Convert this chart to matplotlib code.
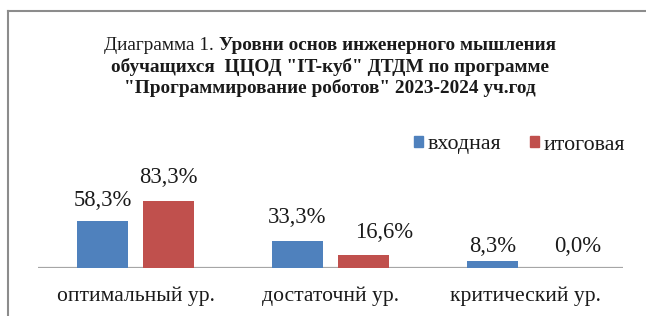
import matplotlib
matplotlib.use("Agg")
import matplotlib.pyplot as plt
from matplotlib.patches import Patch
from matplotlib.lines import Line2D
import matplotlib.transforms as mtransforms
import numpy as np

categories = ["оптимальный ур.", "достаточнй ур.", "критический ур."]
series_names = ["входная", "итоговая"]
vhodnaya = [58.3, 33.3, 8.3]
itogovaya = [83.3, 16.6, 0.0]
labels_vhodnaya = ["58,3%", "33,3%", "8,3%"]
labels_itogovaya = ["83,3%", "16,6%", "0,0%"]
title_line1_normal = "Диаграмма 1. "
title_line1_bold = "Уровни основ инженерного мышления"
title_line2 = 'обучащихся  ЦЦОД "IT-куб" ДТДМ по программе'
title_line3 = '"Программирование роботов" 2023-2024 уч.год'

# label offsets in pixels (dx, dy of label center above bar top)
off_vhod = [(0, 21), (0, 24), (0, 15)]
off_itog = [(0, 23), (21, 22), (19, 21)]

W, H = 646, 316
DPI = 100
plt.rcParams['font.family'] = ['Liberation Serif', 'DejaVu Serif']
fig = plt.figure(figsize=(W / DPI, H / DPI), dpi=DPI)
fig.patch.set_facecolor('white')

BLUE = '#4F81BD'
RED = '#C0504D'
TXT = '#1a1a1a'

# axes placement in pixels
ax_left, ax_right = 38, 623
ax_bottom_px, ax_top_px = 268, 128
scale = 0.805  # px per %
ax = fig.add_axes([ax_left / W, (H - ax_bottom_px) / H,
                   (ax_right - ax_left) / W, (ax_bottom_px - ax_top_px) / H])
ax.set_xlim(-0.5, len(categories) - 0.5)
ax.set_ylim(0, (ax_bottom_px - ax_top_px) / scale)
ax.axis('off')
ax.axhline(0, color='#a6a6a6', lw=1.6, zorder=1)

x = np.arange(len(categories))
bw = 0.26
off = 0.169
ax.bar(x - off, vhodnaya, bw, color=BLUE, zorder=2)
ax.bar(x + off, itogovaya, bw, color=RED, zorder=2)

FS_VAL = 16.3
for xi, v, lab, (dx, dy) in zip(x - off, vhodnaya, labels_vhodnaya, off_vhod):
    ax.annotate(lab, (xi, v), xytext=(dx * 0.72, dy * 0.72), textcoords='offset points',
                ha='center', va='center', fontsize=FS_VAL, color=TXT)
for xi, v, lab, (dx, dy) in zip(x + off, itogovaya, labels_itogovaya, off_itog):
    ax.annotate(lab, (xi, v), xytext=(dx * 0.72, dy * 0.72), textcoords='offset points',
                ha='center', va='center', fontsize=FS_VAL, color=TXT)

cat_tr = ax.get_xaxis_transform() + mtransforms.ScaledTranslation(0, -28 / DPI, fig.dpi_scale_trans)
for xi, c in zip(x, categories):
    ax.text(xi, 0, c, transform=cat_tr, ha='center', va='center',
            fontsize=15.6, color=TXT)

# legend
handles = [Patch(color=BLUE), Patch(color=RED)]
leg = fig.legend(handles, series_names, loc='center right',
                 bbox_to_anchor=(625 / W, (H - 145) / H), ncol=2, frameon=False,
                 fontsize=15.8, handlelength=0.42, handleheight=0.42, handletextpad=0.2,
                 columnspacing=1.3, borderaxespad=0, borderpad=0)
for t in leg.get_texts():
    t.set_color(TXT)

# border (left and top edges of the chart frame; the rest is cropped)
ytop = (H - 10.5) / H
fig.add_artist(Line2D([8 / W, 8 / W], [-0.05, ytop], transform=fig.transFigure,
                      color='#8c8c8c', lw=1.5, solid_capstyle='projecting'))
fig.add_artist(Line2D([8 / W, 1.05], [ytop, ytop], transform=fig.transFigure,
                      color='#8c8c8c', lw=1.5, solid_capstyle='projecting'))

# title
fs_title = 13.9
renderer = fig.canvas.get_renderer()
t1a = fig.text(0, 0, title_line1_normal, fontsize=fs_title, color=TXT, va='center')
t1b = fig.text(0, 0, title_line1_bold, fontsize=fs_title, color=TXT, va='center', weight='bold')
wa = t1a.get_window_extent(renderer).width
wb = t1b.get_window_extent(renderer).width
cx = 330
start = cx - (wa + wb) / 2
y1 = (H - 46) / H
t1a.set_position((start / W, y1))
t1b.set_position(((start + wa) / W, y1))
fig.text(cx / W, (H - 67) / H, title_line2, fontsize=fs_title, color=TXT, va='center', ha='center', weight='bold')
fig.text(cx / W, (H - 88) / H, title_line3, fontsize=fs_title, color=TXT, va='center', ha='center', weight='bold')

fig.savefig('out.png', dpi=DPI, facecolor='white')
